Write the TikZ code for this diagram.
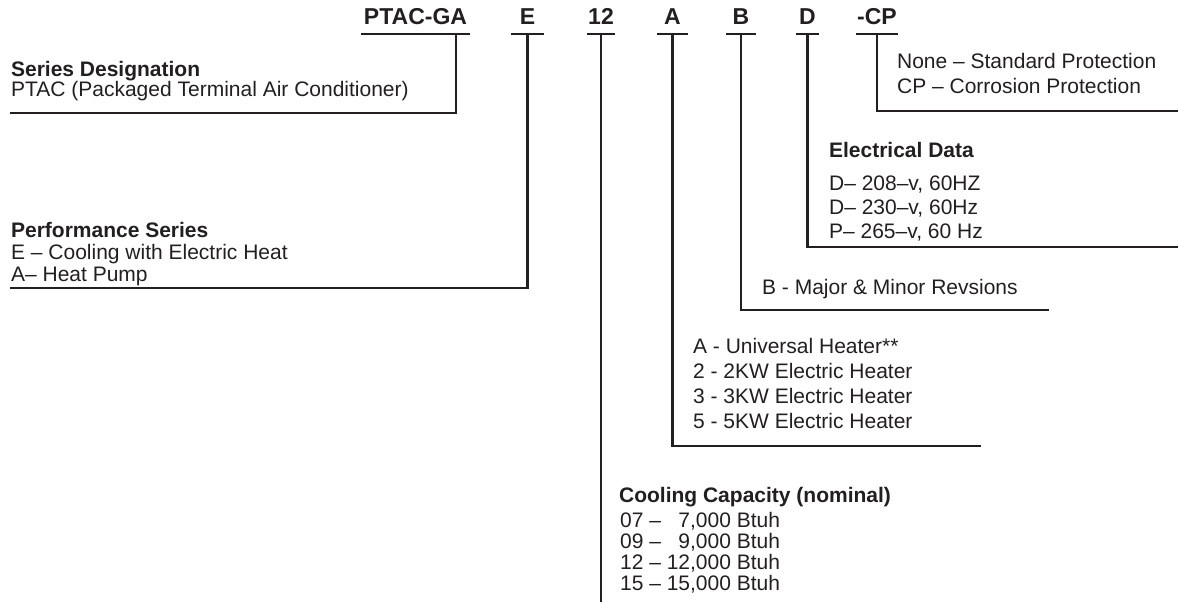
\documentclass[tikz,border=0pt]{standalone}
\usepackage{fontspec}
\setmainfont{Liberation Sans}
\usepackage{xcolor}
\usepackage{tikz}
\definecolor{ink}{RGB}{35,31,32}

\tikzset{
  codebox/.style={anchor=base, inner xsep=0pt, inner ysep=8pt, text depth=0pt,
    font=\fontsize{23}{23}\selectfont\bfseries},
  desc/.style={anchor=base west, inner sep=0pt, font=\fontsize{21}{24}\selectfont},
  head/.style={desc, font=\fontsize{21}{24}\selectfont\bfseries}
}

\begin{document}
\begin{tikzpicture}[x=1pt, y=-1pt, color=ink, text=ink, line width=2.2pt]

\useasboundingbox (0,0) rectangle (1178,602);

% Modellnummer
\node[codebox, minimum width=107pt] (ptac) at (415.5,25) {PTAC-GA};
\node[codebox, minimum width=31pt] (perf) at (527.5,25) {E};
\node[codebox] (cap) at (601,25) {12};
\node[codebox, minimum width=29pt] (heater) at (672.5,25) {A};
\node[codebox, minimum width=28pt] (rev) at (741,25) {B};
\node[codebox, minimum width=21pt] (elec) at (807.5,25) {D};
\node[codebox] (prot) at (877,25) {-CP};

\foreach \n in {ptac,perf,cap,heater,rev,elec,prot}
  \draw (\n.south west) -- (\n.south east);

% Series Designation
\node[head] (serhd) at (10,77) {Series Designation};
\node[desc] (ser1) at (10,96) {PTAC (Packaged Terminal Air Conditioner)};
\coordinate (ptacE) at (10,113);
\draw ([xshift=40.5pt]ptac.south) |- (ptacE);

% Performance Series
\node[head] (perfhd) at (10,237) {Performance Series};
\node[desc] (perf1) at (10,259) {E – Cooling with Electric Heat};
\node[desc] (perf2) at (10,281) {A– Heat Pump};
\coordinate (perfE) at (10,288);
\draw (perf.south) |- (perfE);

% Cooling Capacity
\node[head] (caphd) at (618,502) {Cooling Capacity (nominal)};
\foreach \txt [count=\i] in {{07 – \phantom{1}7,000 Btuh}, {09 – \phantom{1}9,000 Btuh},
    {12 – 12,000 Btuh}, {15 – 15,000 Btuh}}
  \node[desc] (cap\i) at (619,506+21*\i) {\txt};
\coordinate (capE) at (601,602);
\draw (cap.south) -- (capE);

% Heater
\foreach \txt [count=\i] in {A - Universal Heater**, 2 - 2KW Electric Heater,
    3 - 3KW Electric Heater, 5 - 5KW Electric Heater}
  \node[desc] (heater\i) at (692,328+25*\i) {\txt};
\coordinate (heaterE) at (981,446);
\draw (heater.south) |- (heaterE);

% Revisions
\node[desc] (rev1) at (761,294) {B - Major \& Minor Revsions};
\coordinate (revE) at (1049,310);
\draw (rev.south) |- (revE);

% Electrical Data
\node[head] (elechd) at (828,157) {Electrical Data};
\node[desc] (elec1) at (828,190) {D– 208–v, 60HZ};
\node[desc] (elec2) at (828,214) {D– 230–v, 60Hz};
\node[desc] (elec3) at (828,238) {P– 265–v, 60 Hz};
\coordinate (elecE) at (1178,247);
\draw (elec.south) |- (elecE);

% Protection
\node[desc] (prot1) at (896,69) {None – Standard Protection};
\node[desc] (prot2) at (896,93) {CP – Corrosion Protection};
\coordinate (protE) at (1178,111);
\draw (prot.south) |- (protE);

\end{tikzpicture}
\end{document}
